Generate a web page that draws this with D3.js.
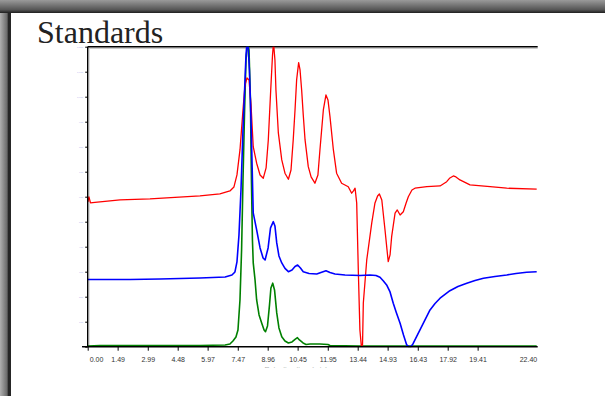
<!DOCTYPE html>
<html>
<head>
<meta charset="utf-8">
<script src="https://cdn.jsdelivr.net/npm/d3@7"></script>
<style>
  body { margin: 0; background: #fff; }
  svg { display: block; }
</style>
</head>
<body>
<div id="chart"></div>
<script>
// retention time (min) and detector signal for each standard
var redTime = [0.01, 0.06, 0.14, 0.36, 1.61, 3.10, 5.59, 6.58, 7.08, 7.28, 7.43, 7.58, 7.73, 7.83, 7.93, 8.03, 8.13, 8.24, 8.41, 8.58, 8.74, 8.88, 8.99, 9.11, 9.20, 9.25, 9.32, 9.37, 9.49, 9.66, 9.82, 9.99, 10.12, 10.23, 10.32, 10.40, 10.50, 10.57, 10.65, 10.73, 10.82, 10.98, 11.12, 11.31, 11.46, 11.56, 11.73, 11.86, 11.96, 12.06, 12.23, 12.39, 12.64, 12.97, 13.14, 13.23, 13.31, 13.39, 13.47, 13.55, 13.62, 13.68, 13.72, 13.89, 14.14, 14.30, 14.43, 14.52, 14.64, 14.80, 14.90, 14.96, 15.05, 15.13, 15.30, 15.41, 15.55, 15.71, 15.85, 15.96, 16.14, 16.29, 16.88, 17.54, 17.87, 18.03, 18.20, 18.33, 18.53, 19.03, 20.03, 20.86, 22.35];
var redSignal = [579, 599, 575, 577, 587, 591, 603, 611, 623, 639, 687, 787, 947, 1047, 1075, 1067, 967, 800, 734, 687, 674, 715, 827, 1027, 1167, 1215, 1147, 1027, 855, 747, 694, 670, 707, 827, 947, 1067, 1136, 1107, 1027, 927, 827, 720, 679, 654, 687, 787, 947, 1007, 987, 920, 787, 694, 654, 640, 614, 623, 634, 575, 307, 67, 3, 7, 175, 347, 495, 575, 603, 611, 587, 467, 387, 340, 367, 440, 534, 547, 527, 540, 575, 600, 627, 634, 640, 643, 660, 675, 683, 679, 667, 647, 640, 634, 630];

var blueTime = [0.01, 0.61, 2.11, 3.60, 5.59, 6.84, 7.18, 7.33, 7.43, 7.53, 7.63, 7.73, 7.81, 7.88, 7.93, 7.98, 8.05, 8.13, 8.24, 8.41, 8.58, 8.73, 8.83, 8.98, 9.10, 9.24, 9.32, 9.41, 9.52, 9.66, 9.82, 9.99, 10.17, 10.32, 10.45, 10.59, 10.73, 11.02, 11.40, 11.61, 11.86, 12.06, 12.31, 12.81, 13.55, 14.05, 14.35, 14.55, 14.72, 14.88, 15.05, 15.21, 15.37, 15.55, 15.72, 15.88, 15.97, 16.09, 16.19, 16.34, 16.54, 16.79, 17.04, 17.29, 17.54, 18.03, 18.43, 18.87, 19.28, 19.70, 20.27, 20.86, 21.32, 21.85, 22.35];
var blueSignal = [269, 269, 269, 271, 275, 279, 287, 299, 339, 447, 627, 867, 1027, 1167, 1215, 1210, 1107, 907, 535, 467, 395, 355, 347, 395, 475, 500, 483, 415, 363, 335, 313, 300, 307, 321, 327, 315, 300, 293, 291, 297, 304, 297, 291, 287, 285, 287, 285, 278, 263, 247, 219, 174, 135, 94, 47, 7, 1, 1, 11, 35, 67, 107, 147, 173, 194, 224, 241, 254, 265, 274, 281, 287, 293, 298, 300];

var greenTime = [0.01, 0.61, 3.10, 5.59, 6.84, 7.08, 7.23, 7.38, 7.48, 7.58, 7.66, 7.73, 7.81, 7.88, 7.96, 8.03, 8.10, 8.15, 8.20, 8.24, 8.33, 8.41, 8.53, 8.66, 8.78, 8.85, 8.95, 9.05, 9.12, 9.21, 9.30, 9.41, 9.52, 9.66, 9.82, 9.99, 10.17, 10.32, 10.44, 10.54, 10.72, 10.87, 11.07, 11.56, 11.96, 12.06, 13.55, 18.03, 22.35];
var greenSignal = [3, 5, 5, 5, 7, 11, 23, 39, 67, 187, 387, 667, 947, 1147, 1215, 1187, 987, 667, 427, 335, 267, 187, 127, 95, 67, 60, 83, 167, 235, 254, 227, 135, 75, 40, 23, 15, 19, 29, 36, 27, 15, 9, 11, 11, 9, 5, 3, 3, 3];

var xTicks = [0, 1.49, 2.99, 4.48, 5.97, 7.47, 8.96, 10.45, 11.95, 13.44, 14.93, 16.43, 17.92, 19.41, 22.40];
var yTicks = [0, 100, 200, 300, 400, 500, 600, 700, 800, 900, 1000, 1100, 1200];

function drawChart() {
    var W = 605, H = 396;
    var pLeft = 87.7, pRight = 537.7, pTop = 46.7, pBottom = 346.7;

    var svg = d3.select("#chart").append("svg")
        .attr("width", W)
        .attr("height", H);

    var defs = svg.append("defs");

    // window frame shading
    var gTop = defs.append("linearGradient").attr("id", "gTop")
        .attr("x1", 0).attr("y1", 0).attr("x2", 0).attr("y2", 1);
    gTop.append("stop").attr("offset", "0%").attr("stop-color", "#9a9a9a");
    gTop.append("stop").attr("offset", "75%").attr("stop-color", "#555");
    gTop.append("stop").attr("offset", "100%").attr("stop-color", "#1e1e1e");

    var gLeft = defs.append("linearGradient").attr("id", "gLeft")
        .attr("x1", 0).attr("y1", 0).attr("x2", 1).attr("y2", 0);
    gLeft.append("stop").attr("offset", "0%").attr("stop-color", "#b0b0b0");
    gLeft.append("stop").attr("offset", "65%").attr("stop-color", "#6a6a6a");
    gLeft.append("stop").attr("offset", "75%").attr("stop-color", "#262626");
    gLeft.append("stop").attr("offset", "100%").attr("stop-color", "#262626");

    svg.append("rect").attr("x", 0).attr("y", 0).attr("width", 11).attr("height", H)
        .attr("fill", "url(#gLeft)");
    svg.append("rect").attr("x", 0).attr("y", 0).attr("width", W).attr("height", 13)
        .attr("fill", "url(#gTop)");

    // title
    svg.append("text")
        .attr("x", 37)
        .attr("y", 43)
        .attr("font-family", "'Liberation Serif', 'Times New Roman', serif")
        .attr("font-size", 32)
        .attr("fill", "#222")
        .text("Standards");

    var x = d3.scaleLinear().domain([0, 22.4]).range([pLeft, pRight]);
    var y = d3.scaleLinear().domain([0, 1200]).range([pBottom, pTop]);

    defs.append("clipPath").attr("id", "plotClip")
        .append("rect")
        .attr("x", pLeft).attr("y", pTop)
        .attr("width", pRight - pLeft).attr("height", pBottom - pTop + 1);

    // shadows of the frame lines
    svg.append("line").attr("x1", pLeft).attr("x2", pRight).attr("y1", pTop + 1.6).attr("y2", pTop + 1.6)
        .attr("stroke", "#ccc").attr("stroke-width", 1.2);
    svg.append("line").attr("x1", pLeft + 1.6).attr("x2", pLeft + 1.6).attr("y1", pTop).attr("y2", pBottom)
        .attr("stroke", "#ddd").attr("stroke-width", 1.2);

    // top frame line
    svg.append("line").attr("x1", pLeft).attr("x2", pRight).attr("y1", pTop).attr("y2", pTop)
        .attr("stroke", "#000").attr("stroke-width", 1.4);

    var line = d3.line()
        .x(d => x(d[0]))
        .y(d => y(d[1]));

    var series = [
        { t: greenTime, v: greenSignal, color: "#008000", w: 1.6 },
        { t: redTime, v: redSignal, color: "#ff0000", w: 1.3 },
        { t: blueTime, v: blueSignal, color: "#0000ff", w: 1.6 }
    ];

    var plot = svg.append("g").attr("clip-path", "url(#plotClip)");
    series.forEach(s => {
        var pts = s.t.map((t, i) => [t, s.v[i]]);
        plot.append("path")
            .datum(pts)
            .attr("fill", "none")
            .attr("stroke", s.color)
            .attr("stroke-width", s.w)
            .attr("stroke-linejoin", "round")
            .attr("d", line);
    });

    // x axis
    var xAxis = d3.axisBottom(x)
        .tickValues(xTicks)
        .tickFormat(d3.format(".2f"))
        .tickSize(4)
        .tickSizeOuter(0);

    var gx = svg.append("g")
        .attr("transform", `translate(0, ${pBottom})`)
        .call(xAxis);
    gx.select(".domain").remove();
    gx.append("line").attr("x1", 82).attr("x2", pRight).attr("y1", 0).attr("y2", 0)
        .attr("stroke", "#000").attr("stroke-width", 1.4);
    gx.selectAll(".tick line").attr("stroke", "#000").attr("stroke-width", 1);
    gx.selectAll(".tick text")
        .attr("font-family", "'Liberation Sans', Arial, sans-serif")
        .attr("font-size", 7)
        .attr("fill", "#333")
        .attr("y", 10);
    gx.selectAll(".tick").filter(d => d === 0).select("text")
        .attr("text-anchor", "start").attr("x", 1.5);
    var lastTick = gx.selectAll(".tick").filter(d => d === 22.4);
    lastTick.select("line").remove();
    lastTick.select("text").attr("text-anchor", "end").attr("x", -1);

    // x axis title, mostly hidden behind the window edge
    defs.append("clipPath").attr("id", "titleClip")
        .append("rect").attr("x", 0).attr("y", 0).attr("width", W).attr("height", 367.6);
    svg.append("text")
        .attr("clip-path", "url(#titleClip)")
        .attr("x", 296)
        .attr("y", 372)
        .attr("text-anchor", "middle")
        .attr("font-family", "'Liberation Sans', Arial, sans-serif")
        .attr("font-size", 7)
        .attr("fill", "#555")
        .text("Retention time (min)");

    // y axis
    var yAxis = d3.axisLeft(y)
        .tickValues(yTicks)
        .tickSize(2.5)
        .tickSizeOuter(0);

    var gy = svg.append("g")
        .attr("transform", `translate(${pLeft}, 0)`)
        .call(yAxis);
    gy.select(".domain").remove();
    gy.append("line").attr("x1", 0).attr("x2", 0).attr("y1", pTop).attr("y2", pBottom)
        .attr("stroke", "#000").attr("stroke-width", 1.4);
    gy.selectAll(".tick line").attr("stroke", "#000").attr("stroke-width", 1);
    gy.selectAll(".tick text")
        .attr("font-family", "'Liberation Sans', Arial, sans-serif")
        .attr("font-size", 2.5)
        .attr("fill", "#b4b4ee")
        .attr("x", -4.5);
}

drawChart();
</script>
</body>
</html>
